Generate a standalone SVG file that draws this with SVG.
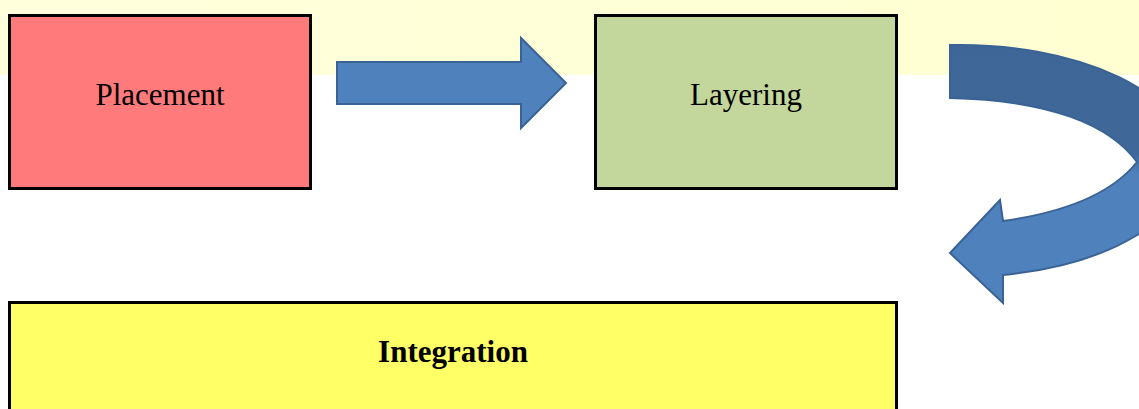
<svg xmlns="http://www.w3.org/2000/svg" width="1139" height="409" viewBox="0 0 1139 409">
<defs>
<style>
.box{stroke:#000;stroke-width:3}
.lbl{font-family:"Liberation Serif","Times New Roman",serif;font-size:31px;fill:#000;text-anchor:middle}
.arrow{stroke:#3A6395;stroke-width:2;stroke-linejoin:miter}
</style>
<linearGradient id="band" x1="0" y1="0" x2="1" y2="0">
<stop offset="0" stop-color="#FFFFDC"/>
<stop offset="1" stop-color="#FFFFD2"/>
</linearGradient>
<linearGradient id="curve" gradientUnits="userSpaceOnUse" x1="0" y1="45" x2="0" y2="303">
<stop offset="0" stop-color="#3E6797"/>
<stop offset="0.42" stop-color="#3F6898"/>
<stop offset="0.5" stop-color="#4F81BD"/>
<stop offset="1" stop-color="#4F81BD"/>
</linearGradient>
</defs>
<rect x="0" y="0" width="1139" height="409" fill="#FFFFFF"/>
<rect x="0" y="0" width="1139" height="75" fill="url(#band)"/>
<g id="connectors">
<path class="arrow" fill="#4F81BD" d="M337,62 L521,62 L521,38 L566,83 L521,128 L521,104 L337,104 Z"/>
<path class="arrow" fill="url(#curve)" d="M950,45.1 A230,116 0 0 1 1190,161 A230,116 0 0 1 1003,275 L1003,303 L950,253 L1000,200 L1003,221 C1060,213 1110,196 1137,162 C1110,125 1050,100 950,98 Z"/>
</g>
<g id="placement">
<rect class="box" x="9.5" y="15.5" width="301" height="173" fill="#FF7B7B"/>
<text class="lbl" x="160" y="105">Placement</text>
</g>
<g id="layering">
<rect class="box" x="595.5" y="15.5" width="301" height="173" fill="#C3D69B"/>
<text class="lbl" x="746" y="105">Layering</text>
</g>
<g id="integration">
<rect class="box" x="9.5" y="302.5" width="887" height="120" fill="#FFFF66"/>
<text class="lbl" x="453" y="362" font-weight="bold">Integration</text>
</g>
</svg>
